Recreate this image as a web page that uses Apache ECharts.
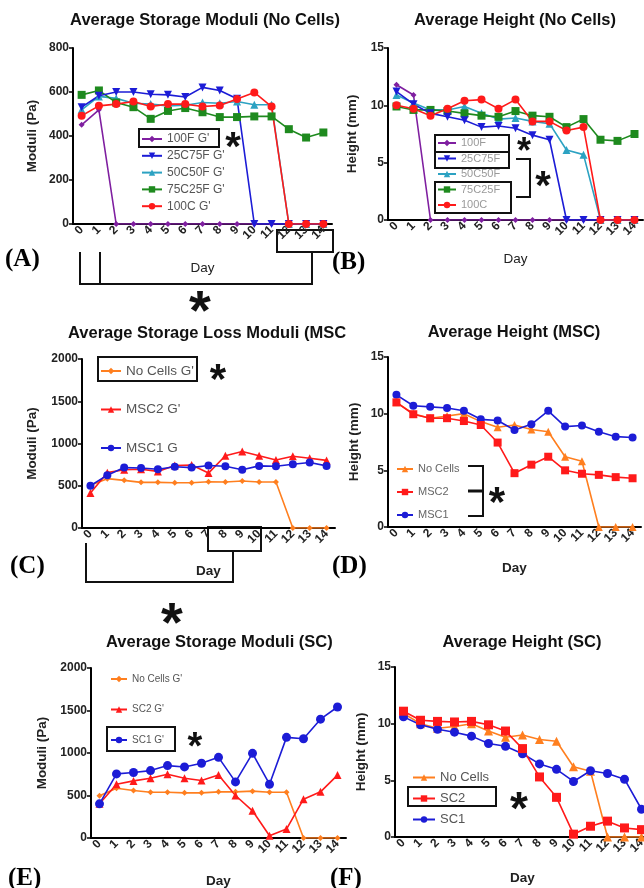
<!DOCTYPE html>
<html>
<head>
<meta charset="utf-8">
<script src="https://cdn.jsdelivr.net/npm/echarts@6/dist/echarts.min.js"></script>
<style>
  body { margin: 0; background: #fff; }
  #main { width: 644px; height: 888px; }
</style>
</head>
<body>
<div id="main"></div>
<script>
// day labels shared by every panel
var days = ['0', '1', '2', '3', '4', '5', '6', '7', '8', '9', '10', '11', '12', '13', '14'];

// (A) storage moduli, no cells (Pa)
var a100F = [451, 519, 0, 0, 0, 0, 0, 0, 0, 0, 0, 0, 0, 0, 0];
var a25C75F = [531, 583, 600, 600, 590, 587, 577, 621, 607, 569, 0, 0, 0, 0, 0];
var a50C50F = [519, 580, 571, 549, 545, 537, 540, 552, 549, 557, 542, 542, 0, 0, 0];
var a75C25F = [587, 607, 552, 531, 478, 514, 527, 508, 486, 486, 489, 489, 431, 393, 416];
var a100C = [492, 537, 545, 557, 534, 545, 545, 534, 539, 568, 598, 534, 0, 0, 0];

// (B) height, no cells (mm)
var b100F = [11.8, 10.9, 0, 0, 0, 0, 0, 0, 0, 0, 0, 0, 0, 0, 0];
var b25C75F = [11.2, 10.1, 9.3, 9.0, 8.7, 8.1, 8.2, 8.0, 7.4, 7.0, 0, 0, 0, 0, 0];
var b50C50F = [10.9, 10.2, 9.6, 9.6, 9.9, 9.3, 8.8, 8.9, 8.6, 8.4, 6.1, 5.7, 0, 0, 0];
var b75C25F = [9.9, 9.6, 9.6, 9.5, 9.3, 9.1, 9.0, 9.5, 9.1, 9.0, 8.1, 8.8, 7.0, 6.9, 7.5];
var b100C = [10.0, 9.7, 9.1, 9.7, 10.4, 10.5, 9.7, 10.5, 8.6, 8.6, 7.8, 8.1, 0, 0, 0];

// (C) storage moduli, MSC (Pa)
var cNoCells = [505, 584, 564, 540, 540, 536, 536, 548, 544, 556, 544, 544, 0, 0, 0];
var cMSC2 = [414, 655, 690, 695, 670, 740, 745, 650, 855, 905, 855, 805, 850, 825, 800];
var cMSC1 = [500, 625, 715, 710, 695, 725, 715, 740, 730, 690, 735, 730, 755, 775, 735];

// (D) height, MSC (mm)
var dNoCells = [11.0, 10.0, 9.6, 9.8, 10.0, 9.3, 8.8, 9.0, 8.6, 8.4, 6.2, 5.8, 0, 0, 0];
var dMSC2 = [11.0, 9.95, 9.6, 9.6, 9.35, 9.0, 7.45, 4.75, 5.5, 6.2, 5.0, 4.7, 4.6, 4.4, 4.3];
var dMSC1 = [11.66, 10.7, 10.6, 10.5, 10.25, 9.5, 9.4, 8.56, 9.06, 10.25, 8.86, 8.95, 8.4, 7.97, 7.9];

// (E) storage moduli, SC (Pa)
var eNoCells = [496, 586, 559, 539, 539, 531, 531, 543, 543, 551, 539, 539, 0, 0, 0];
var eSC2 = [402, 633, 672, 703, 750, 703, 676, 742, 500, 320, 27, 105, 457, 543, 740];
var eSC1 = [402, 754, 770, 793, 852, 836, 879, 949, 660, 996, 633, 1184, 1168, 1398, 1541];

// (F) height, SC (mm)
var fNoCells = [10.9, 10.0, 9.6, 9.75, 10.0, 9.35, 8.8, 9.0, 8.6, 8.45, 6.2, 5.8, 0, 0, 0];
var fSC2 = [11.1, 10.3, 10.2, 10.15, 10.2, 9.9, 9.35, 7.8, 5.3, 3.5, 0.25, 0.95, 1.4, 0.8, 0.65];
var fSC1 = [10.6, 9.9, 9.5, 9.25, 8.9, 8.25, 8.0, 7.35, 6.45, 5.97, 4.9, 5.85, 5.6, 5.1, 2.45];

var PURPLE = '#7f1fa0', BLUE = '#1c1cd6', CYAN = '#2ca2c2', GREEN = '#1e8a1e', RED = '#ff1a1a', ORANGE = '#ff7f1f';
var SANS = 'Liberation Sans, Arial, sans-serif';

var grids = [
  { left: 73, top: 48, width: 259, height: 176 },
  { left: 388, top: 48, width: 255, height: 172 },
  { left: 82, top: 359, width: 253, height: 169 },
  { left: 388, top: 357, width: 253, height: 170 },
  { left: 91, top: 668, width: 255, height: 170 },
  { left: 395, top: 667, width: 255, height: 170 }
];
grids.forEach(function (g) { g.outerBoundsMode = 'none'; g.containLabel = false; });

function xAx(i, gap, bold) {
  return {
    type: 'category', gridIndex: i, data: days, boundaryGap: true,
    axisLine: { lineStyle: { color: '#000', width: 2 } },
    axisTick: { alignWithLabel: true, length: 4, lineStyle: { color: '#000', width: 1.5 } },
    axisLabel: { rotate: 45, interval: 0, fontSize: 12, fontWeight: 'bold', color: '#222', margin: 4, fontFamily: SANS },
    name: 'Day', nameLocation: 'middle', nameGap: gap,
    nameTextStyle: { fontSize: 13.5, fontWeight: bold ? 'bold' : 'normal', color: '#222', fontFamily: SANS }
  };
}
function yAx(i, max, step, name, gap) {
  return {
    type: 'value', gridIndex: i, min: 0, max: max, interval: step,
    splitLine: { show: false },
    axisLine: { show: true, lineStyle: { color: '#000', width: 2 } },
    axisTick: { show: true, length: 4, lineStyle: { color: '#000', width: 1.5 } },
    axisLabel: {
      fontSize: 12, fontWeight: 'bold', color: '#222', margin: 4, fontFamily: SANS,
      formatter: function (v) { return String(v); }
    },
    name: name, nameLocation: 'middle', nameGap: gap,
    nameTextStyle: { fontSize: 13.5, fontWeight: 'bold', color: '#222', fontFamily: SANS }
  };
}
function line(name, data, i, color, symbol, size, rot) {
  return {
    name: name, type: 'line', xAxisIndex: i, yAxisIndex: i, data: data,
    symbol: symbol, symbolSize: size, symbolRotate: rot || 0,
    lineStyle: { color: color, width: 1.6 },
    itemStyle: { color: color }
  };
}
function leg(names, left, top, iw, gap, fs, col) {
  return {
    data: names, orient: 'vertical', left: left, top: top, padding: 0,
    itemWidth: iw, itemHeight: 8, itemGap: gap, selectedMode: false,
    textStyle: { fontSize: fs, color: col, lineHeight: 12, fontFamily: SANS }
  };
}

// annotation helpers
function txt(s, x, y, font, align, color) {
  return { type: 'text', x: x, y: y, style: { text: s, font: font, fill: color || '#111', align: align || 'center', verticalAlign: 'middle' } };
}
function star(x, y, size) {
  return { type: 'text', x: x, y: y + 0.28 * size, style: { text: '*', font: 'bold ' + size + 'px ' + SANS, fill: '#111', align: 'center', verticalAlign: 'middle' } };
}
function box(x, y, w, h) {
  return { type: 'rect', shape: { x: x, y: y, width: w, height: h }, style: { fill: null, stroke: '#111', lineWidth: 2 } };
}
function poly(pts, w) {
  return { type: 'polyline', shape: { points: pts }, style: { fill: null, stroke: '#111', lineWidth: w || 2 } };
}

var TITLE = 'bold 16.5px ' + SANS;
var LETTER = 'bold 25px Liberation Serif, Times New Roman, serif';

var myChart = echarts.init(document.getElementById('main'));
var options = {
  animation: false,
  backgroundColor: '#fff',
  grid: grids,
  xAxis: [xAx(0, 37, false), xAx(1, 32, false), xAx(2, 36, true), xAx(3, 34, true), xAx(4, 36, true), xAx(5, 34, true)],
  yAxis: [
    yAx(0, 800, 200, 'Moduli (Pa)', 34),
    yAx(1, 15, 5, 'Height (mm)', 29),
    yAx(2, 2000, 500, 'Moduli (Pa)', 43),
    yAx(3, 15, 5, 'Height (mm)', 27),
    yAx(4, 2000, 500, 'Moduli (Pa)', 42),
    yAx(5, 15, 5, 'Height (mm)', 27)
  ],
  legend: [
    leg(["100F G'", "25C75F G'", "50C50F G'", "75C25F G'", "100C G'"], 141, 133, 20, 4.8, 12, '#555'),
    leg(['100F', '25C75F', '50C50F', '75C25F', '100C'], 437, 137, 18, 3.5, 11, '#9a9a9a'),
    leg(["No Cells G'", "MSC2 G'", 'MSC1 G'], 100, 364, 20, 24.5, 13.5, '#555'),
    leg(['No Cells', 'MSC2', 'MSC1'], 396, 463, 16, 11, 11, '#666'),
    leg(["No Cells G'", "SC2 G'", "SC1 G'"], 110, 673, 16, 18.5, 10, '#555'),
    leg(['No Cells', 'SC2', 'SC1'], 412, 771, 22, 8, 13, '#555')
  ],
  series: [
    line("100F G'", a100F, 0, PURPLE, 'diamond', 6),
    line("50C50F G'", a50C50F, 0, CYAN, 'triangle', 8),
    line("75C25F G'", a75C25F, 0, GREEN, 'rect', 8),
    line("25C75F G'", a25C75F, 0, BLUE, 'triangle', 8, 180),
    line("100C G'", a100C, 0, RED, 'circle', 8),

    line('100F', b100F, 1, PURPLE, 'diamond', 6),
    line('50C50F', b50C50F, 1, CYAN, 'triangle', 8),
    line('75C25F', b75C25F, 1, GREEN, 'rect', 8),
    line('25C75F', b25C75F, 1, BLUE, 'triangle', 8, 180),
    line('100C', b100C, 1, RED, 'circle', 8),

    line("No Cells G'", cNoCells, 2, ORANGE, 'diamond', 6),
    line("MSC2 G'", cMSC2, 2, RED, 'triangle', 8),
    line('MSC1 G', cMSC1, 2, BLUE, 'circle', 8),

    line('No Cells', dNoCells, 3, ORANGE, 'triangle', 8),
    line('MSC1', dMSC1, 3, BLUE, 'circle', 8),
    line('MSC2', dMSC2, 3, RED, 'rect', 8),

    line("No Cells G'", eNoCells, 4, ORANGE, 'diamond', 6),
    line("SC2 G'", eSC2, 4, RED, 'triangle', 8),
    line("SC1 G'", eSC1, 4, BLUE, 'circle', 9),

    line('No Cells', fNoCells, 5, ORANGE, 'triangle', 9),
    line('SC1', fSC1, 5, BLUE, 'circle', 9),
    line('SC2', fSC2, 5, RED, 'rect', 9)
  ],
  graphic: [
    // titles
    txt('Average Storage Moduli (No Cells)', 205, 20, TITLE),
    txt('Average Height (No Cells)', 515, 20, TITLE),
    txt('Average Storage Loss Moduli (MSC', 68, 333, TITLE, 'left'),
    txt('Average Height (MSC)', 514, 332, TITLE),
    txt('Average Storage Moduli (SC)', 106, 642, TITLE, 'left'),
    txt('Average Height (SC)', 522, 642, TITLE),
    // panel letters
    txt('(A)', 5, 260, LETTER, 'left', '#000'),
    txt('(B)', 332, 263, LETTER, 'left', '#000'),
    txt('(C)', 10, 567, LETTER, 'left', '#000'),
    txt('(D)', 332, 567, LETTER, 'left', '#000'),
    txt('(E)', 8, 879, LETTER, 'left', '#000'),
    txt('(F)', 330, 879, LETTER, 'left', '#000'),
    // (A) marks
    box(139, 129, 80, 18),
    star(233, 138, 40),
    box(277, 230, 56, 22),
    poly([[80, 252], [80, 284], [312, 284], [312, 252]]),
    poly([[100, 252], [100, 284]]),
    star(200, 298, 56),
    // (B) marks
    box(435, 135, 74, 17),
    box(435, 152, 74, 16),
    box(435, 182, 76, 31),
    star(524, 143, 36),
    poly([[516, 159], [530, 159], [530, 197], [516, 197]]),
    star(543, 177, 40),
    // (C) marks
    box(98, 357, 99, 24),
    star(218, 370, 42),
    box(208, 527, 53, 24),
    poly([[86, 543], [86, 582], [233, 582], [233, 551]]),
    star(172, 610, 56),
    // (D) marks
    poly([[468, 466], [483, 466], [483, 516], [468, 516]]),
    poly([[468, 491], [483, 491]], 3),
    star(497, 493, 42),
    // (E) marks
    box(107, 727, 68, 24),
    star(195, 738, 38),
    // (F) marks
    box(408, 787, 88, 19),
    star(519, 798, 46)
  ]
};
myChart.setOption(options);
</script>
</body>
</html>
